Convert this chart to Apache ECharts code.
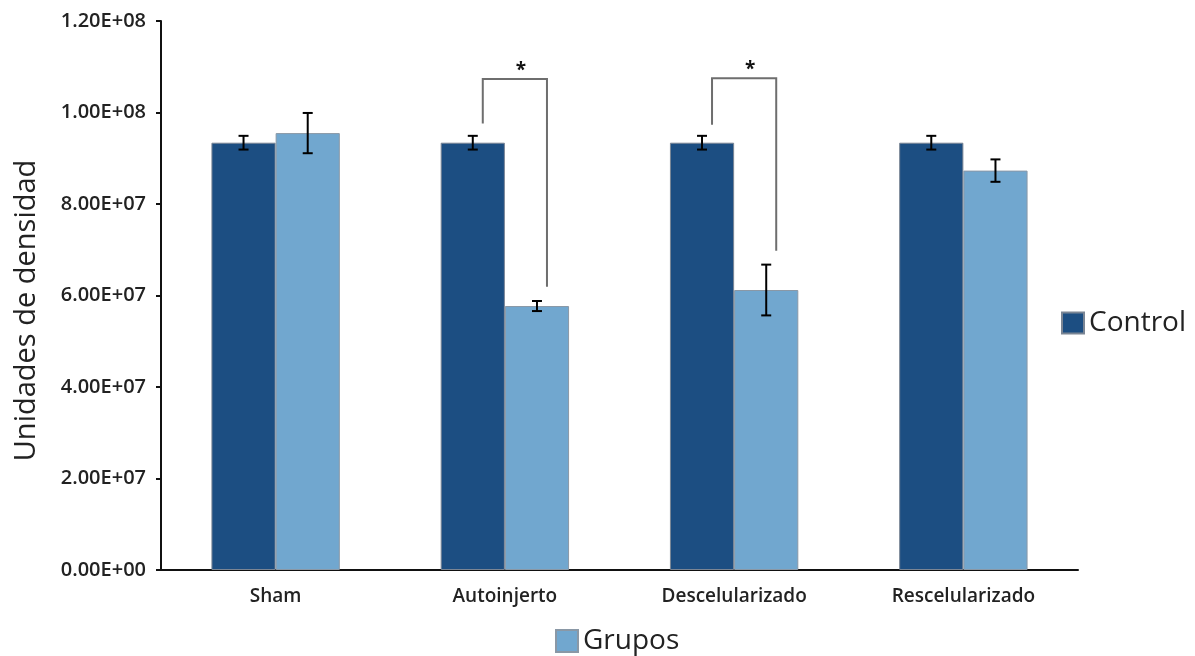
<!DOCTYPE html>
<html>
<head>
<meta charset="utf-8">
<script src="https://cdn.jsdelivr.net/npm/echarts@6/dist/echarts.min.js"></script>
<style>
html,body{margin:0;padding:0;background:#fff;}
#chart{width:1195px;height:656px;}
</style>
</head>
<body>
<div id="chart"></div>
<script>
const categories = ['Sham', 'Autoinjerto', 'Descelularizado', 'Rescelularizado'];
const controlValues = [9.34e7, 9.34e7, 9.34e7, 9.34e7];
const controlErrors = [0.15e7, 0.15e7, 0.15e7, 0.15e7];
const grupoValues = [9.55e7, 5.77e7, 6.12e7, 8.73e7];
const grupoErrors = [0.44e7, 0.11e7, 0.555e7, 0.245e7];
const yTickLabels = ['0.00E+00', '2.00E+07', '4.00E+07', '6.00E+07', '8.00E+07', '1.00E+08', '1.20E+08'];
const bracketCats = [1, 2];
const bracketTop = [10.73e7, 10.75e7];
const bracketLeftEnd = [9.76e7, 9.73e7];
const bracketRightEnd = [6.19e7, 6.98e7];
const bracketMarks = ['*', '*'];

const FONT = 'Open Sans';
const GAP = 0.44;

const chart = echarts.init(document.getElementById('chart'));

function errRender(sign) {
  return function (params, api) {
    const ci = api.value(0), v = api.value(1), e = api.value(2);
    const band = api.size([1, 0])[0];
    const bw = band * (1 - GAP) / 2;
    const c = api.coord([ci, v]);
    const x = c[0] + sign * bw / 2;
    const top = api.coord([ci, v + e])[1];
    const bot = api.coord([ci, v - e])[1];
    const st = { stroke: '#000', lineWidth: 2 };
    return {
      type: 'group',
      children: [
        { type: 'line', shape: { x1: x, y1: top, x2: x, y2: bot }, style: st },
        { type: 'line', shape: { x1: x - 5, y1: top, x2: x + 5, y2: top }, style: st },
        { type: 'line', shape: { x1: x - 5, y1: bot, x2: x + 5, y2: bot }, style: st }
      ]
    };
  };
}

function bracketRender(params, api) {
  const ci = api.value(0);
  const band = api.size([1, 0])[0];
  const bw = band * (1 - GAP) / 2;
  const c = api.coord([ci, api.value(1)]);
  const xl = c[0] - bw / 2 + 10;
  const xr = c[0] + bw / 2 + 10;
  const yt = c[1];
  const yl = api.coord([ci, api.value(2)])[1];
  const yr = api.coord([ci, api.value(3)])[1];
  const st = { stroke: '#6e6e6e', lineWidth: 2, fill: null };
  return {
    type: 'group',
    children: [
      { type: 'polyline', shape: { points: [[xl, yl], [xl, yt], [xr, yt], [xr, yr]] }, style: st },
      { type: 'text', x: (xl + xr) / 2 + 6, y: yt - 9, style: { text: bracketMarks[params.dataIndex], font: 'bold 19px "' + FONT + '"', fill: '#111', align: 'center', verticalAlign: 'middle' } }
    ]
  };
}

chart.setOption({
  animation: false,
  backgroundColor: '#fff',
  grid: { left: 161, right: 117, top: 21, bottom: 86, containLabel: false },
  legend: [
    {
      data: ['Control'], left: 1061, top: 309, padding: 0, itemWidth: 22, itemHeight: 21, itemGap: 5,
      icon: 'rect',
      textStyle: { fontFamily: FONT, fontSize: 28, color: '#222' }
    },
    {
      data: ['Grupos'], left: 555, top: 627, padding: 0, itemWidth: 22, itemHeight: 22, itemGap: 5,
      icon: 'rect',
      textStyle: { fontFamily: FONT, fontSize: 28, color: '#222' }
    }
  ],
  xAxis: {
    type: 'category',
    data: categories,
    axisLine: { lineStyle: { color: '#111', width: 2 } },
    axisTick: { show: false },
    axisLabel: { fontFamily: FONT, fontSize: 19, fontWeight: 600, color: '#222', margin: 17 }
  },
  yAxis: {
    type: 'value',
    min: 0, max: 1.2e8, interval: 2e7,
    name: 'Unidades de densidad',
    nameLocation: 'middle',
    nameGap: 120,
    nameRotate: 90,
    nameTextStyle: { fontFamily: FONT, fontSize: 29, color: '#222', padding: [0, 30, 0, 0] },
    axisLine: { show: true, lineStyle: { color: '#111', width: 2 } },
    axisTick: { show: true, length: 5, lineStyle: { color: '#111', width: 2 } },
    splitLine: { show: false },
    axisLabel: {
      fontFamily: FONT, fontSize: 20, fontWeight: 600, color: '#222', margin: 15,
      formatter: function (v) { return yTickLabels[Math.round(v / 2e7)]; }
    }
  },
  series: [
    {
      name: 'Control', type: 'bar', data: controlValues, barGap: '0%', barCategoryGap: (GAP * 100) + '%',
      itemStyle: { color: '#1c4e82', borderColor: '#7a8594', borderWidth: 1 }
    },
    {
      name: 'Grupos', type: 'bar', data: grupoValues,
      itemStyle: { color: '#71a7cf', borderColor: '#8a98a6', borderWidth: 1 }
    },
    {
      type: 'custom', renderItem: errRender(-1), z: 5,
      data: controlValues.map((v, i) => [i, v, controlErrors[i]])
    },
    {
      type: 'custom', renderItem: errRender(1), z: 5,
      data: grupoValues.map((v, i) => [i, v, grupoErrors[i]])
    },
    {
      type: 'custom', renderItem: bracketRender, z: 6,
      data: bracketCats.map((c, i) => [c, bracketTop[i], bracketLeftEnd[i], bracketRightEnd[i]])
    }
  ]
});
</script>
</body>
</html>
